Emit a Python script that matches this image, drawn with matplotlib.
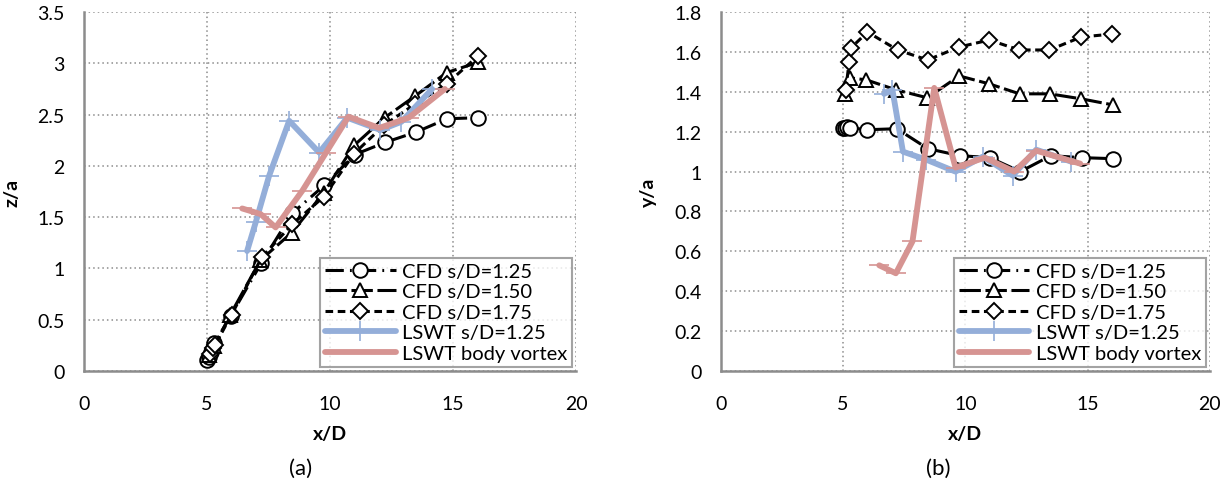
import numpy as np
import matplotlib
matplotlib.use('Agg')
from matplotlib import pyplot as plt
from matplotlib.ticker import FormatStrFormatter

plt.rcParams['font.family'] = ['Lato', 'DejaVu Sans']

# CFD s/D=1.25
cfd125_x = [5.0, 5.08, 5.17, 5.3, 5.97, 7.2, 8.47, 9.77, 11.0, 12.25, 13.5, 14.76, 16.02]
cfd125_z = [0.11, 0.14, 0.19, 0.27, 0.54, 1.05, 1.54, 1.81, 2.11, 2.23, 2.33, 2.46, 2.47]
cfd125_y = [1.22, 1.22, 1.225, 1.22, 1.21, 1.215, 1.115, 1.08, 1.07, 1.0, 1.08, 1.07, 1.065]

# CFD s/D=1.50
cfd150_x = [5.08, 5.3, 5.95, 7.17, 8.45, 9.75, 10.98, 12.22, 13.45, 14.74, 16.02]
cfd150_z = [0.16, 0.24, 0.55, 1.08, 1.35, 1.74, 2.2, 2.47, 2.68, 2.91, 3.01]
cfd150_y = [1.39, 1.47, 1.46, 1.41, 1.37, 1.48, 1.44, 1.39, 1.39, 1.365, 1.335]

# CFD s/D=1.75
cfd175_x = [5.11, 5.25, 5.32, 6.0, 7.23, 8.46, 9.75, 10.98, 12.21, 13.44, 14.74, 16.01]
cfd175_z = [0.17, 0.22, 0.25, 0.55, 1.11, 1.43, 1.70, 2.12, 2.40, 2.60, 2.80, 3.07]
cfd175_y = [1.41, 1.55, 1.62, 1.70, 1.61, 1.56, 1.625, 1.66, 1.61, 1.61, 1.675, 1.69]

# LSWT s/D=1.25
lswt_xa = [6.63, 6.98, 7.52, 8.34, 9.56, 10.7, 12.05, 12.9, 14.15]
lswt_z = [1.17, 1.45, 1.90, 2.44, 2.13, 2.47, 2.35, 2.43, 2.75]
lswt_xb = [6.68, 7.02, 7.45, 8.4, 9.6, 10.71, 11.94, 12.9, 14.33]
lswt_y = [1.39, 1.41, 1.10, 1.06, 1.0, 1.075, 0.98, 1.11, 1.05]

# LSWT body vortex
body_xa = [6.43, 7.18, 7.79, 8.88, 9.84, 10.75, 12.0, 13.2, 14.67]
body_z = [1.585, 1.53, 1.40, 1.76, 2.13, 2.48, 2.37, 2.47, 2.75]
body_xb = [6.48, 7.16, 7.84, 8.73, 9.6, 10.8, 12.0, 12.9, 14.7]
body_y = [0.53, 0.49, 0.65, 1.42, 1.02, 1.07, 1.0, 1.105, 1.04]

blue = '#94AED9'
pink = '#D69492'

fig = plt.figure(figsize=(12.3, 4.85), dpi=100)
ax1 = fig.add_axes([0.0683, 0.233, 0.4, 0.740])
ax2 = fig.add_axes([0.586, 0.233, 0.3976, 0.740])


def draw(ax, c1, c2, c3, lx, ly, bx, by):
    ax.plot(cfd125_x, c1, color='black', lw=2.2, dashes=[6, 2, 0.6, 2],
            marker='o', ms=10.5, mfc='white', mec='black', mew=1.4,
            label='CFD s/D=1.25')
    ax.plot(cfd150_x, c2, color='black', lw=2.2, dashes=[7, 1.5],
            marker='^', ms=10.5, mfc='white', mec='black', mew=1.4,
            label='CFD s/D=1.50')
    ax.plot(cfd175_x, c3, color='black', lw=2.2, dashes=[2.5, 1.5],
            marker='D', ms=8, mfc='white', mec='black', mew=1.4,
            label='CFD s/D=1.75')
    ax.plot(lx, ly, color=blue, lw=4.2, marker='+', ms=15, mew=1.2,
            solid_capstyle='round', label='LSWT s/D=1.25')
    ax.plot(bx, by, color=pink, lw=4.2, marker='_', ms=15, mew=1.2,
            solid_capstyle='round', label='LSWT body vortex')
    ax.set_xlim(0, 20)
    ax.set_xticks([0, 5, 10, 15, 20])
    ax.grid(True, color='#8c8c8c', linestyle=(0, (1, 2)), lw=1.1)
    for s in ['top', 'right']:
        ax.spines[s].set_visible(False)
    for s in ['left', 'bottom']:
        ax.spines[s].set_color('#8c8c8c')
        ax.spines[s].set_linewidth(1.8)
    ax.tick_params(length=0, labelsize=14)
    ax.tick_params(axis='x', pad=17)
    ax.tick_params(axis='y', pad=14)
    ax.yaxis.set_major_formatter(FormatStrFormatter('%g'))
    ax.set_xlabel('x/D', fontsize=14, fontweight='bold', labelpad=10)
    leg = ax.legend(loc='lower right', fontsize=14.5, handlelength=3.5,
                    frameon=True, fancybox=False, borderpad=0.25,
                    labelspacing=0.17, handletextpad=0.3,
                    borderaxespad=0.2)
    leg.get_frame().set_edgecolor('#8c8c8c')
    leg.get_frame().set_linewidth(1.5)


draw(ax1, cfd125_z, cfd150_z, cfd175_z, lswt_xa, lswt_z, body_xa, body_z)
ax1.set_ylim(0, 3.5)
ax1.set_yticks(np.arange(0, 3.51, 0.5))
ax1.set_ylabel('z/a', fontsize=14, fontweight='bold', labelpad=12)

draw(ax2, cfd125_y, cfd150_y, cfd175_y, lswt_xb, lswt_y, body_xb, body_y)
ax2.set_ylim(0, 1.8)
ax2.set_yticks(np.arange(0, 1.81, 0.2))
ax2.set_ylabel('y/a', fontsize=14, fontweight='bold', labelpad=12)

fig.text(0.2442, 0.033, '(a)', fontsize=16, ha='center', va='center')
fig.text(0.763, 0.033, '(b)', fontsize=16, ha='center', va='center')

fig.savefig('out.png', dpi=100)
